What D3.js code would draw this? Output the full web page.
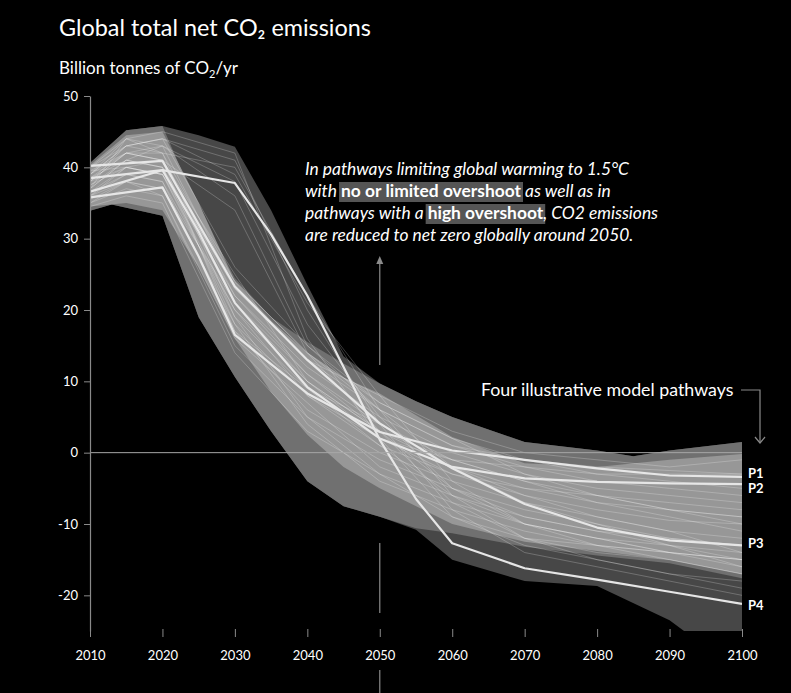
<!DOCTYPE html>
<html><head><meta charset="utf-8">
<script src="https://cdn.jsdelivr.net/npm/d3@7"></script>
<style>html,body{margin:0;padding:0;background:#000;} svg{display:block;}</style>
</head><body>
<svg id="c" width="791" height="693"></svg>
<script>
// ---------- DATA ----------
const xTicks = [2010,2020,2030,2040,2050,2060,2070,2080,2090,2100];
const yTicks = [-20,-10,0,10,20,30,40,50];

// full range of pathways (darkest envelope)
const envFullYearsU = [2010,2015,2020,2025,2030,2035,2040,2045,2050,2055,2060,2070,2080,2085,2090,2100];
const envFullUpper  = [40.6,45.2,45.8,44.5,42.9,34.0,23.5,13.5,9.7,7.2,5.0,1.5,0.3,-0.5,0.3,1.5];
const envFullYearsL = [2010,2013,2020,2025,2030,2035,2040,2045,2050,2055,2060,2070,2080,2090,2092,2100];
const envFullLower  = [33.9,34.8,33.2,19.0,10.6,3.0,-4.0,-7.5,-9.0,-10.8,-15.0,-18.0,-18.7,-23.5,-25,-25];

// no or limited overshoot range (mid grey)
const envMidYearsU = [2010,2015,2020,2025,2030,2035,2040,2045,2050,2055,2060,2070,2080,2085,2090,2100];
const envMidUpper  = [40.6,45.2,45.8,34.0,24.5,19.0,15.5,12.5,9.7,7.2,5.0,1.5,0.3,-0.5,0.3,1.5];
const envMidYearsL = [2010,2013,2020,2025,2030,2035,2040,2045,2050,2055,2060,2070,2080,2090,2100];
const envMidLower  = [33.9,34.8,33.2,19.0,10.6,3.0,-4.0,-7.5,-9.0,-10.6,-11.3,-13.2,-14.4,-15.5,-17.6];

// dense core (light grey)
const envCoreYears = [2010,2015,2020,2025,2030,2035,2040,2045,2050,2060,2070,2080,2090,2100];
const envCoreUpper = [40.3,44.5,45.0,35.0,24.0,18.5,14.0,10.5,8.3,2.2,-1.5,-2.0,-1.0,-0.2];
const envCoreLower = [34.5,35.0,34.0,26.0,16.0,8.5,2.5,-2.0,-5.0,-10.0,-12.5,-13.8,-15.0,-17.0];

// individual pathways (thin lines)
const thinYears = [2010,2015,2020,2030,2040,2050,2060,2070,2080,2090,2100];
const thin01 = [39.5,42,41,22,12,5,0,-3,-5,-6,-7];
const thin02 = [38,40,39,20,10,3,-2,-5,-7,-8,-9];
const thin03 = [36,38,37,18,8,2,-3,-6,-8,-9.5,-10];
const thin04 = [37,44,42,24,14,6,1,-2,-4,-5,-6];
const thin05 = [35,37,36,15,5,-1,-5,-8,-10,-12,-13];
const thin06 = [38.5,41,40,21,11,4,-1,-4,-6,-8,-10];
const thin07 = [40,43,44,26,15,7,2,-1,-3,-4,-5];
const thin08 = [36.5,39,38,17,6,0,-4,-7,-9,-11,-12];
const thin09 = [34.5,36,35,14,3,-3,-7,-10,-12,-14,-15];
const thin10 = [39,44,43,23,13,8,3,0,-1,-2,-1];
const thin11 = [37.5,40,39,19,9,4,-2,-6,-9,-11,-14];
const thin12 = [35.5,38,36,16,7,-2,-6,-9,-11,-13,-16];
const thin13 = [38,42,41,25,10,2,-1,-2,-3,-3,-3];
const thin14 = [36,39,38,20,8,1,-3,-5,-6,-7,-8];
const thin15 = [39.5,40,39,22,11,3,-5,-9,-11,-12,-13];
const thin16 = [37,41,40,18,4,-4,-8,-11,-13,-14,-15];
const thin17 = [38,42,42,40,22,6,-6,-12,-15,-17,-18];
const thin18 = [39,43,44,41,20,4,-8,-14,-16,-18,-20];
const thin19 = [37,41,43,38,18,5,-5,-10,-13,-15,-17];
const thin20 = [40,44,45,42,16,2,-9,-13,-15,-17,-19];
const thin21 = [38.5,42,43,36,15,6,-2,-7,-10,-13,-15];
const thin22 = [39,43,44,39,21,8,-4,-10,-12,-14,-16];
const thin23 = [36,40,41,34,14,3,-7,-12,-14,-15,-17];
const thin24 = [37.5,41,40,23,13,6,1,-1,-2,-2.5,-3];
const thin25 = [35,38,37,21,10,3,-1,-4,-7,-9,-11];
const thin26 = [38,43,42,19,5,-3,-9,-12,-13,-14,-15];
const thin27 = [36.5,40,39,24,14,7,2,-3,-6,-8,-9];
const thin28 = [39,42,41,17,9,1,-6,-10,-12,-13,-14];
const thinLines = [thin01,thin02,thin03,thin04,thin05,thin06,thin07,thin08,thin09,thin10,thin11,thin12,thin13,thin14,
  thin15,thin16,thin17,thin18,thin19,thin20,thin21,thin22,thin23,thin24,thin25,thin26,thin27,thin28];

// four illustrative model pathways
const p1Years = [2010,2020,2025,2030,2040,2050,2060,2070,2080,2090,2100];
const p1Vals  = [35.8,37.2,27.5,16.5,8.3,2.9,0.3,-1.0,-2.2,-3.2,-3.4];
const p2Years = [2010,2020,2025,2030,2040,2050,2060,2070,2080,2090,2100];
const p2Vals  = [36.6,39.6,31.0,21.0,9.2,2.0,-2.0,-3.6,-4.1,-4.3,-4.4];
const p3Years = [2010,2020,2025,2030,2040,2050,2060,2070,2080,2090,2100];
const p3Vals  = [40.2,40.9,32.0,23.3,13.0,4.1,-2.2,-7.2,-10.5,-12.3,-13.0];
const p4Years = [2010,2020,2030,2035,2040,2045,2050,2055,2060,2070,2080,2090,2100];
const p4Vals  = [38.5,39.6,37.8,30.6,22.0,12.0,1.8,-6.5,-12.7,-16.2,-17.8,-19.5,-21.2];
const pLabels = ["P1","P2","P3","P4"];

// ---------- CHART ----------
const FONT = "Lato, 'Noto Sans', sans-serif";
const svg = d3.select("#c");
svg.append("rect").attr("width",791).attr("height",693).attr("fill","#000");

const x = d3.scaleLinear().domain([2010,2100]).range([90,742]);
const y = d3.scaleLinear().domain([-25,50]).range([631,96]);

svg.append("defs").append("clipPath").attr("id","plot")
  .append("rect").attr("x",x(2010)).attr("y",y(50)).attr("width",x(2100)-x(2010)).attr("height",y(-25)-y(50));

const plot = svg.append("g").attr("clip-path","url(#plot)");
const line = d3.line().x(d=>x(d[0])).y(d=>y(d[1]));
const zip = (ys, vs) => ys.map((yr,i)=>[yr, vs[i]]);
const band = (yu,u,yl,l) => line(zip(yu,u).concat(zip(yl,l).reverse())) + "Z";

plot.append("path").attr("d", band(envFullYearsU,envFullUpper,envFullYearsL,envFullLower)).attr("fill","#474747");
plot.append("path").attr("d", band(envMidYearsU,envMidUpper,envMidYearsL,envMidLower)).attr("fill","#707070");
plot.append("path").attr("d", band(envCoreYears,envCoreUpper,envCoreYears,envCoreLower)).attr("fill","#979797");

plot.selectAll("path.thin").data(thinLines).join("path").attr("class","thin")
  .attr("d", d=>line(zip(thinYears,d))).attr("fill","none")
  .attr("stroke","rgba(255,255,255,0.25)").attr("stroke-width",0.9);

// zero line
svg.append("line").attr("x1",x(2010)).attr("x2",x(2100)).attr("y1",y(0)).attr("y2",y(0))
  .attr("stroke","#a8a8a8").attr("stroke-width",1);

// illustrative pathways
const pSeries = [zip(p1Years,p1Vals),zip(p2Years,p2Vals),zip(p3Years,p3Vals),zip(p4Years,p4Vals)];
plot.selectAll("path.p").data(pSeries).join("path").attr("class","p")
  .attr("d", d=>line(d)).attr("fill","none").attr("stroke","#e6e6e6").attr("stroke-width",2.2)
  .attr("stroke-linejoin","round");

const labelY = [478,493,548,610];
svg.selectAll("text.pl").data(pLabels).join("text").attr("class","pl")
  .attr("x",748).attr("y",(d,i)=>labelY[i]).text(d=>d)
  .attr("fill","#fff").attr("font-family",FONT).attr("font-size",13).attr("font-weight",700);

// axes
const yAxis = svg.append("g").attr("transform",`translate(${x(2010)},0)`)
  .call(d3.axisLeft(y).tickValues(yTicks).tickSize(6).tickSizeOuter(0).tickPadding(6).tickFormat(d=>String(d)));
yAxis.select(".domain").attr("stroke","#8a8a8a").attr("stroke-width",1.2);
yAxis.selectAll(".tick line").attr("stroke","#8a8a8a");
yAxis.selectAll("text").attr("fill","#fff").attr("font-family",FONT).attr("font-size",13);

const xAxis = svg.append("g").attr("transform",`translate(0,629)`)
  .call(d3.axisBottom(x).tickValues(xTicks).tickSize(8).tickSizeOuter(0).tickPadding(14).tickFormat(d=>String(d)));
xAxis.select(".domain").remove();
xAxis.selectAll(".tick line").attr("stroke","#8a8a8a");
xAxis.selectAll("text").attr("fill","#fff").attr("font-family",FONT).attr("font-size",13);

// 2050 marker
const x50 = x(2050);
const grey = "#8a8a8a";
svg.append("line").attr("x1",x50).attr("x2",x50).attr("y1",365).attr("y2",262).attr("stroke",grey).attr("stroke-width",1.2);
svg.append("path").attr("d",`M${x50-3.5},264L${x50},256L${x50+3.5},264Z`).attr("fill",grey);
svg.append("line").attr("x1",x50).attr("x2",x50).attr("y1",543).attr("y2",613).attr("stroke",grey).attr("stroke-width",1.2);
svg.append("line").attr("x1",x50).attr("x2",x50).attr("y1",670).attr("y2",693).attr("stroke",grey).attr("stroke-width",1.2);

// titles
svg.append("text").attr("x",59).attr("y",36).text("Global total net CO₂ emissions")
  .attr("fill","#fff").attr("font-family",FONT).attr("font-size",23.4);
const sub = svg.append("text").attr("x",59).attr("y",74).attr("fill","#fff").attr("font-family",FONT).attr("font-size",17);
sub.append("tspan").text("Billion tonnes of CO");
sub.append("tspan").text("2").attr("font-size",11).attr("dy",4);
sub.append("tspan").text("/yr").attr("dy",-4);

// annotation
const annLines = [
  [{t:"In pathways limiting global warming to 1.5°C"}],
  [{t:"with "},{t:"no or limited overshoot",b:true},{t:" as well as in"}],
  [{t:"pathways with a "},{t:"high overshoot",b:true},{t:", CO2 emissions"}],
  [{t:"are reduced to net zero globally around 2050."}]
];
const annY = [175,197,219,241];
const ann = svg.append("g");
annLines.forEach((segs,li)=>{
  let cx = 305;
  segs.forEach(s=>{
    const bg = s.b ? ann.append("rect") : null;
    const t = ann.append("text").attr("x",cx).attr("y",annY[li]).text(s.t)
      .style("white-space","pre").attr("fill","#fff").attr("font-family",FONT).attr("font-size",17.4)
      .attr("font-style", s.b ? "normal" : "italic").attr("font-weight", s.b ? 700 : 400);
    const w = t.node().getComputedTextLength();
    if (bg) bg.attr("x",cx-2).attr("y",annY[li]-15).attr("width",w+4).attr("height",20).attr("fill","#555");
    cx += w;
  });
});

// four illustrative pathways note
svg.append("text").attr("x",481).attr("y",396).text("Four illustrative model pathways")
  .attr("fill","#fff").attr("font-family",FONT).attr("font-size",17.8);
svg.append("path").attr("d","M741,390H760V443").attr("fill","none").attr("stroke",grey).attr("stroke-width",1.2);
svg.append("path").attr("d","M755,437L760,443L765,437").attr("fill","none").attr("stroke",grey).attr("stroke-width",1.2);
</script>
</body></html>
